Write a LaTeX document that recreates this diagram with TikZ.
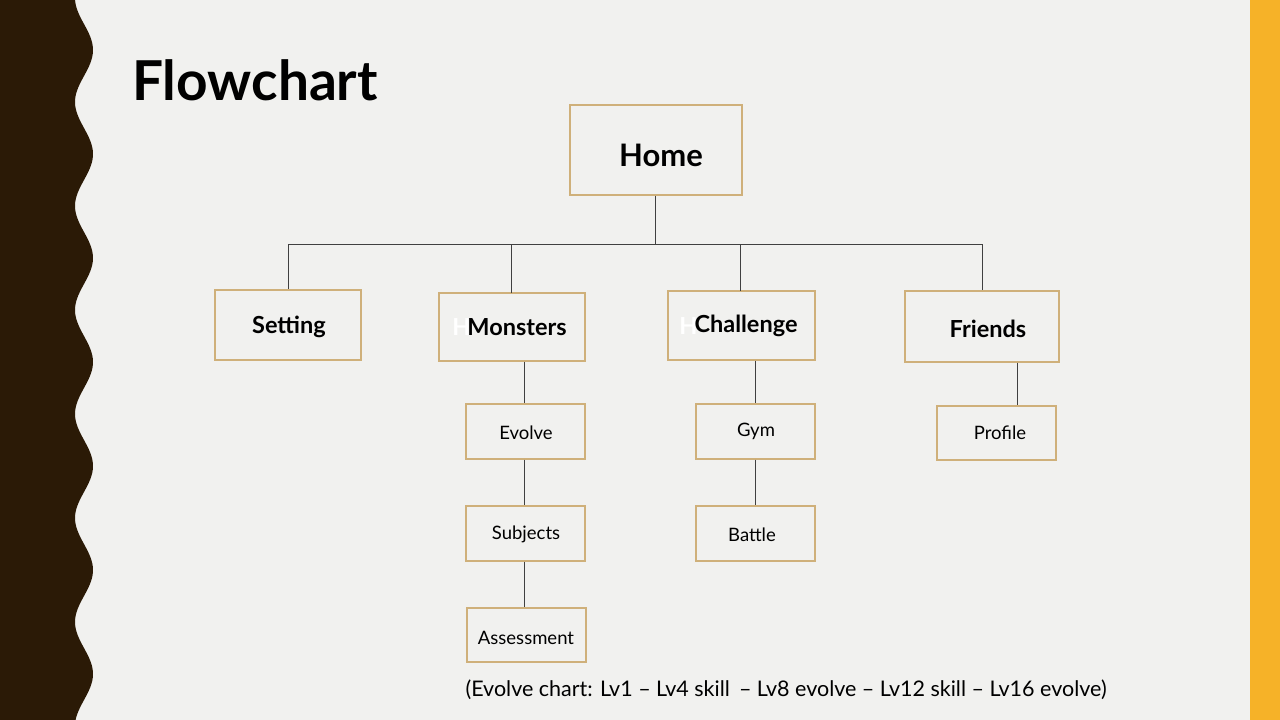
\documentclass[tikz,border=0pt]{standalone}
\usepackage{fontspec}
\setmainfont{Lato}
\begin{document}
\begin{tikzpicture}[x=1pt,y=-1pt,
  box/.style={draw=boxc,line width=1.2pt,fill=bgc,inner sep=0pt},
  big/.style={font=\fontsize{23.5}{25}\selectfont\bfseries},
  small/.style={font=\fontsize{18.5}{20}\selectfont},
  conn/.style={draw=black!75,line width=0.9pt}]
\definecolor{bgc}{HTML}{F1F1EF}
\definecolor{boxc}{HTML}{CFB07A}
\definecolor{darkc}{HTML}{2B1A06}
\definecolor{orc}{HTML}{F6B228}
\fill[bgc] (0,0) rectangle (1280,720);
\useasboundingbox (0,0) rectangle (1280,720);
\fill[darkc] (0,0) -- plot[domain=0:720,samples=240,smooth] ({84+9*cos(3.4615*(\x-50))},\x) -- (0,720) -- cycle;
\fill[orc] (1250,0) rectangle (1280,720);
\node[anchor=base west,font=\fontsize{55}{57}\selectfont\bfseries,inner sep=0pt] (title) at (132,100) {Flowchart};
% boxes
\node[box,minimum width=172pt,minimum height=90pt] (home) at (656,150) {};
\node[font=\fontsize{31}{32}\selectfont\bfseries] (homet) at (661,155) {Home};
\node[box,minimum width=146pt,minimum height=70pt] (setting) at (288,325) {};
\node[big] (settingt) at (289,327) {Setting};
\node[box,minimum width=146pt,minimum height=68pt] (monsters) at (512,327) {};
\node[big,anchor=east,text=white] (mh) at (474,327) {H};
\node[big] (monsterst) at (517,327) {Monsters};
\node[box,minimum width=147pt,minimum height=69pt] (challenge) at (741.5,325.5) {};
\node[big,anchor=east,text=white] (ch) at (701,326) {H};
\node[big] (challenget) at (746,326) {Challenge};
\node[box,minimum width=154pt,minimum height=71pt] (friends) at (982,326.5) {};
\node[big] (friendst) at (988,329) {Friends};
\node[box,minimum width=119pt,minimum height=55pt] (evolve) at (525.5,431.5) {};
\node[small] (evolvet) at (526,433) {Evolve};
\node[box,minimum width=119pt,minimum height=55pt] (subjects) at (525.5,533.5) {};
\node[small] (subjectst) at (526,534) {Subjects};
\node[box,minimum width=119pt,minimum height=54pt] (assess) at (526.5,635) {};
\node[small] (assesst) at (526,638) {Assessment};
\node[box,minimum width=119pt,minimum height=55pt] (gym) at (755.5,431.5) {};
\node[small] (gymt) at (756,431) {Gym};
\node[box,minimum width=119pt,minimum height=55pt] (battle) at (755.5,533.5) {};
\node[small] (battlet) at (752,535) {Battle};
\node[box,minimum width=119pt,minimum height=54pt] (profile) at (996.5,433) {};
\node[small] (profilet) at (1000,433) {Profile};
% connectors
\coordinate (bus) at (655,244);
\coordinate (busL) at (288,244);
\coordinate (busR) at (982,244);
\draw[conn] (home.south -| bus) -- (bus);
\draw[conn] (busL) -- (busR);
\draw[conn] (busL) -- (setting.north);
\draw[conn] (511,244) -- (511,293);
\draw[conn] (740,244) -- (740,291);
\draw[conn] (busR) -- (friends.north);
\draw[conn] (monsters.south -| 524,0) -- (evolve.north -| 524,0);
\draw[conn] (evolve.south -| 524,0) -- (subjects.north -| 524,0);
\draw[conn] (subjects.south -| 524,0) -- (assess.north -| 524,0);
\draw[conn] (challenge.south -| 755,0) -- (gym.north -| 755,0);
\draw[conn] (gym.south -| 755,0) -- (battle.north -| 755,0);
\draw[conn] (friends.south -| 1017,0) -- (profile.north -| 1017,0);
\node[anchor=west,font=\fontsize{21.5}{23}\selectfont] (caption) at (462,690) {(Evolve chart: Lv1 -- Lv4 skill\, -- Lv8 evolve -- Lv12 skill -- Lv16 evolve)};
\end{tikzpicture}
\end{document}
